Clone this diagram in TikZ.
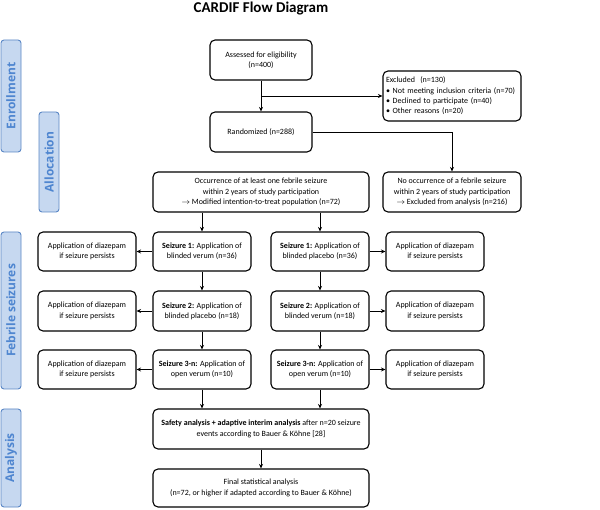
\documentclass[tikz,border=0pt]{standalone}
\usepackage{fontspec}
\setmainfont{Carlito}
\newfontfamily\tabfont{Open Sans}
\usetikzlibrary{arrows.meta}
\definecolor{tabfill}{HTML}{C6D8F0}
\definecolor{tabborder}{HTML}{5B87C5}
\definecolor{tabtext}{HTML}{4F86D0}
\tikzset{
  box/.style={draw, rounded corners=5pt, line width=1.1pt, align=center,
    font=\fontsize{8}{10.3}\selectfont, inner sep=0pt},
  tabbox/.style={draw=tabborder, fill=tabfill, rounded corners=3pt, line width=0.9pt,
    minimum width=20pt, inner sep=0pt},
  tablabel/.style={rotate=90, text=tabtext, font=\tabfont\bfseries\fontsize{12}{14}\selectfont},
  arr/.style={-{Stealth[length=4.5pt,width=4pt]}, line width=0.9pt}
}
\begin{document}
\begin{tikzpicture}[x=1pt,y=-1pt]
\useasboundingbox (0,0) rectangle (600,510);
\node[font=\bfseries\fontsize{15}{17}\selectfont] (title) at (261,9) {CARDIF Flow Diagram};

% tabs
\node[tabbox, minimum height=112pt] (tEnr) at (11,96) {};
\node[tablabel] (lEnr) at (tEnr.center) {Enrollment};
\node[tabbox, minimum height=100pt] (tAll) at (49,162) {};
\node[tablabel] (lAll) at (tAll.center) {Allocation};
\node[tabbox, minimum height=157pt] (tFeb) at (11,310.5) {};
\node[tablabel] (lFeb) at (tFeb.center) {Febrile seizures};
\node[tabbox, minimum height=98pt] (tAna) at (11,458) {};
\node[tablabel] (lAna) at (tAna.center) {Analysis};

% boxes
\node[box, minimum width=102pt, minimum height=40pt] (assess) at (261,60) {Assessed for eligibility\\(n=400)};
\node[box, minimum width=138pt, minimum height=50pt, align=left, text width=132pt] (excl) at (452,96)
  {Excluded\ \ (n=130)\\\textbullet\ Not meeting inclusion criteria (n=70)\\\textbullet\ Declined to participate (n=40)\\\textbullet\ Other reasons (n=20)};
\node[box, minimum width=102pt, minimum height=40pt] (rand) at (261,132) {Randomized (n=288)};
\node[box, minimum width=216pt, minimum height=40pt] (occ) at (261,192)
  {Occurrence of at least one febrile seizure\\within 2 years of study participation\\$\rightarrow$ Modified intention-to-treat population (n=72)};
\node[box, minimum width=138pt, minimum height=40pt] (noocc) at (452,192)
  {No occurrence of a febrile seizure\\within 2 years of study participation\\$\rightarrow$ Excluded from analysis (n=216)};

\node[box, minimum width=98pt, minimum height=39pt] (dL1) at (87,251.5) {Application of diazepam\\if seizure persists};
\node[box, minimum width=98pt, minimum height=39pt] (SL1) at (202,251.5) {\textbf{Seizure 1:} Application of\\blinded verum (n=36)};
\node[box, minimum width=98pt, minimum height=39pt] (SR1) at (320,251.5) {\textbf{Seizure 1:} Application of\\blinded placebo (n=36)};
\node[box, minimum width=98pt, minimum height=39pt] (dR1) at (435,251.5) {Application of diazepam\\if seizure persists};

\node[box, minimum width=98pt, minimum height=40pt] (dL2) at (87,311) {Application of diazepam\\if seizure persists};
\node[box, minimum width=98pt, minimum height=40pt] (SL2) at (202,311) {\textbf{Seizure 2:} Application of\\blinded placebo (n=18)};
\node[box, minimum width=98pt, minimum height=40pt] (SR2) at (320,311) {\textbf{Seizure 2:} Application of\\blinded verum (n=18)};
\node[box, minimum width=98pt, minimum height=40pt] (dR2) at (435,311) {Application of diazepam\\if seizure persists};

\node[box, minimum width=98pt, minimum height=39pt] (dL3) at (87,369.5) {Application of diazepam\\if seizure persists};
\node[box, minimum width=98pt, minimum height=39pt] (SL3) at (202,369.5) {\textbf{Seizure 3-n:} Application of\\open verum (n=10)};
\node[box, minimum width=98pt, minimum height=39pt] (SR3) at (320,369.5) {\textbf{Seizure 3-n:} Application of\\open verum (n=10)};
\node[box, minimum width=98pt, minimum height=39pt] (dR3) at (435,369.5) {Application of diazepam\\if seizure persists};

\node[box, minimum width=216pt, minimum height=40pt] (safety) at (261,429)
  {\textbf{Safety analysis + adaptive interim analysis} after n=20 seizure\\events according to Bauer \& Köhne [28]};
\node[box, minimum width=216pt, minimum height=38pt] (final) at (261,488)
  {Final statistical analysis\\(n=72, or higher if adapted according to Bauer \& Köhne)};

% connectors
\coordinate (br) at (assess.south |- excl.west);
\draw[arr] (assess.south) -- (rand.north);
\draw[arr] (br) -- (excl.west);
\draw[arr] (rand.east) -| (noocc.north);
\draw[arr] (occ.south -| SL1.north) -- (SL1.north);
\draw[arr] (occ.south -| SR1.north) -- (SR1.north);
\draw[arr] (SL1) -- (SL2);
\draw[arr] (SL2) -- (SL3);
\draw[arr] (SR1) -- (SR2);
\draw[arr] (SR2) -- (SR3);
\draw[arr] (SL1.west) -- (dL1.east);
\draw[arr] (SL2.west) -- (dL2.east);
\draw[arr] (SL3.west) -- (dL3.east);
\draw[arr] (SR1.east) -- (dR1.west);
\draw[arr] (SR2.east) -- (dR2.west);
\draw[arr] (SR3.east) -- (dR3.west);
\draw[arr] (SL3.south) -- (SL3.south |- safety.north);
\draw[arr] (SR3.south) -- (SR3.south |- safety.north);
\draw[arr] (safety) -- (final);
\end{tikzpicture}
\end{document}
